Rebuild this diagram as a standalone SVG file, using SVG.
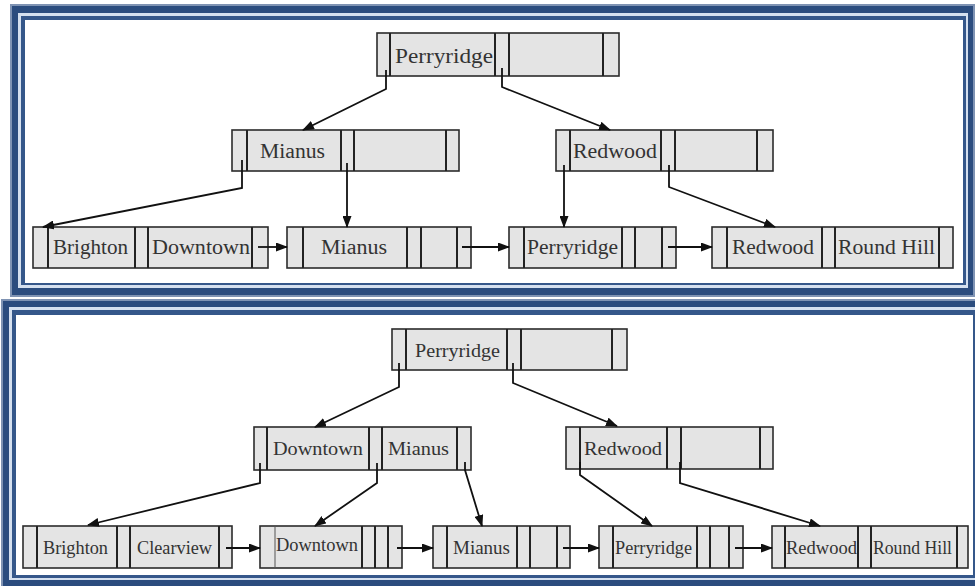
<svg xmlns="http://www.w3.org/2000/svg" width="975" height="586" viewBox="0 0 975 586">
<defs>
<marker id="ah" markerUnits="userSpaceOnUse" markerWidth="12" markerHeight="9" refX="11" refY="4.5" orient="auto">
<path d="M0,0 L12,4.5 L0,9 z" fill="#111"/>
</marker>
<style>
.cell{fill:#e4e4e4;stroke:#2b2b2b;stroke-width:1.6}
.div{stroke:#222;stroke-width:2}
.t{font-family:"Liberation Serif","Times New Roman",serif;fill:#333}
.t1{font-size:20px}
.t2{font-size:18px}
.c{fill:none;stroke:#111;stroke-width:1.8;marker-end:url(#ah)}
.fa{fill:#7f93b3}.fb{fill:#2b4c7e}.fc{fill:#d5e0ef}.fd{fill:#35578a}.fe{fill:#fff}
</style>
</defs>
<rect width="975" height="586" fill="#fff"/>

<g id="frame-top">
<rect class="fa" x="10" y="4" width="965" height="293"/>
<rect class="fb" x="12" y="6" width="961" height="289"/>
<rect class="fc" x="18" y="13" width="950" height="275"/>
<rect class="fd" x="21" y="16" width="945" height="269"/>
<rect class="fe" x="25" y="20" width="938" height="263"/>
</g>
<g id="frame-bottom">
<rect class="fa" x="1" y="299" width="980" height="300"/>
<rect class="fb" x="3" y="301" width="980" height="300"/>
<rect class="fc" x="9" y="307" width="970" height="273"/>
<rect class="fd" x="12" y="310" width="965" height="268"/>
<rect class="fe" x="16" y="315" width="957" height="260"/>
</g>

<!-- Top tree -->
<g id="t-root">
<rect class="cell" x="377" y="33" width="242" height="43"/>
<path class="div" d="M390 33V76M495 33V76M509 33V76M603 33V76"/>
<text class="t t1" x="395" y="63" textLength="98" lengthAdjust="spacingAndGlyphs">Perryridge</text>
</g>
<g id="t-mianus">
<rect class="cell" x="232" y="130" width="227" height="41"/>
<path class="div" d="M247 130V171M341 130V171M354 130V171M446 130V171"/>
<text class="t t1" x="260" y="158" textLength="65" lengthAdjust="spacingAndGlyphs">Mianus</text>
</g>
<g id="t-redwood">
<rect class="cell" x="556" y="130" width="217" height="41"/>
<path class="div" d="M570 130V171M661 130V171M675 130V171M757 130V171"/>
<text class="t t1" x="573" y="158" textLength="84" lengthAdjust="spacingAndGlyphs">Redwood</text>
</g>
<g id="t-leaf1">
<rect class="cell" x="33" y="227" width="235" height="41"/>
<path class="div" d="M48 227V268M135 227V268M148 227V268M252 227V268"/>
<text class="t t1" x="53" y="254" textLength="75" lengthAdjust="spacingAndGlyphs">Brighton</text>
<text class="t t1" x="152" y="254" textLength="98" lengthAdjust="spacingAndGlyphs">Downtown</text>
</g>
<g id="t-leaf2">
<rect class="cell" x="287" y="227" width="184" height="41"/>
<path class="div" d="M303 227V268M407 227V268M421 227V268M457 227V268"/>
<text class="t t1" x="321" y="254" textLength="66" lengthAdjust="spacingAndGlyphs">Mianus</text>
</g>
<g id="t-leaf3">
<rect class="cell" x="509" y="227" width="167" height="41"/>
<path class="div" d="M524 227V268M622 227V268M635 227V268M662 227V268"/>
<text class="t t1" x="527" y="254" textLength="91" lengthAdjust="spacingAndGlyphs">Perryridge</text>
</g>
<g id="t-leaf4">
<rect class="cell" x="712" y="227" width="241" height="41"/>
<path class="div" d="M727 227V268M822 227V268M835 227V268M939 227V268"/>
<text class="t t1" x="732" y="254" textLength="82" lengthAdjust="spacingAndGlyphs">Redwood</text>
<text class="t t1" x="838" y="254" textLength="97" lengthAdjust="spacingAndGlyphs">Round Hill</text>
</g>

<!-- Bottom tree -->
<g id="b-root">
<rect class="cell" x="392" y="329" width="235" height="41"/>
<path class="div" d="M406 329V370M507 329V370M521 329V370M612 329V370"/>
<text class="t t2" x="415" y="357" textLength="85" lengthAdjust="spacingAndGlyphs">Perryridge</text>
</g>
<g id="b-downtown-mianus">
<rect class="cell" x="254" y="427" width="217" height="43"/>
<path class="div" d="M267 427V470M369 427V470M382 427V470M457 427V470"/>
<text class="t t2" x="273" y="455" textLength="90" lengthAdjust="spacingAndGlyphs">Downtown</text>
<text class="t t2" x="388" y="455" textLength="61" lengthAdjust="spacingAndGlyphs">Mianus</text>
</g>
<g id="b-redwood">
<rect class="cell" x="566" y="427" width="207" height="42"/>
<path class="div" d="M580 427V469M667 427V469M681 427V469M760 427V469"/>
<text class="t t2" x="584" y="455" textLength="78" lengthAdjust="spacingAndGlyphs">Redwood</text>
</g>
<g id="b-leaf1">
<rect class="cell" x="23" y="526" width="209" height="42"/>
<path class="div" d="M37 526V568M117 526V568M130 526V568M219 526V568"/>
<text class="t t2" x="43" y="554" textLength="65" lengthAdjust="spacingAndGlyphs">Brighton</text>
<text class="t t2" x="137" y="554" textLength="75" lengthAdjust="spacingAndGlyphs">Clearview</text>
</g>
<g id="b-leaf2">
<rect class="cell" x="260" y="526" width="142" height="42"/>
<path class="div" d="M362 526V568M375 526V568M388 526V568"/>
<path d="M275 526V568" stroke="#555" stroke-width="1"/>
<text class="t t2" x="276" y="551" textLength="82" lengthAdjust="spacingAndGlyphs">Downtown</text>
</g>
<g id="b-leaf3">
<rect class="cell" x="433" y="526" width="137" height="42"/>
<path class="div" d="M447 526V568M517 526V568M530 526V568M557 526V568"/>
<text class="t t2" x="453" y="554" textLength="57" lengthAdjust="spacingAndGlyphs">Mianus</text>
</g>
<g id="b-leaf4">
<rect class="cell" x="599" y="526" width="144" height="42"/>
<path class="div" d="M613 526V568M697 526V568M710 526V568M729 526V568"/>
<text class="t t2" x="615" y="554" textLength="77" lengthAdjust="spacingAndGlyphs">Perryridge</text>
</g>
<g id="b-leaf5">
<rect class="cell" x="772" y="526" width="196" height="42"/>
<path class="div" d="M785 526V568M858 526V568M871 526V568M957 526V568"/>
<text class="t t2" x="786" y="554" textLength="71" lengthAdjust="spacingAndGlyphs">Redwood</text>
<text class="t t2" x="873" y="554" textLength="79" lengthAdjust="spacingAndGlyphs">Round Hill</text>
</g>

<g id="connectors">
<path class="c" d="M386 70V89L303 130"/>
<path class="c" d="M502 68V87L610 130"/>
<path class="c" d="M242 160V188L43 227"/>
<path class="c" d="M347 163V227"/>
<path class="c" d="M564 165V227"/>
<path class="c" d="M669 165V187L775 227"/>
<path class="c" d="M258 247H287"/>
<path class="c" d="M462 247H509"/>
<path class="c" d="M668 247H712"/>

<path class="c" d="M399 363V387L315 427"/>
<path class="c" d="M513 363V383L617 426"/>
<path class="c" d="M260 463V483L88 525"/>
<path class="c" d="M377 463V483L315 526"/>
<path class="c" d="M465 462V470L482 526"/>
<path class="c" d="M580 462V475L652 526"/>
<path class="c" d="M680 462V483L820 526"/>
<path class="c" d="M226 548H260"/>
<path class="c" d="M397 548H433"/>
<path class="c" d="M563 548H599"/>
<path class="c" d="M735 548H772"/>
</g>
</svg>
